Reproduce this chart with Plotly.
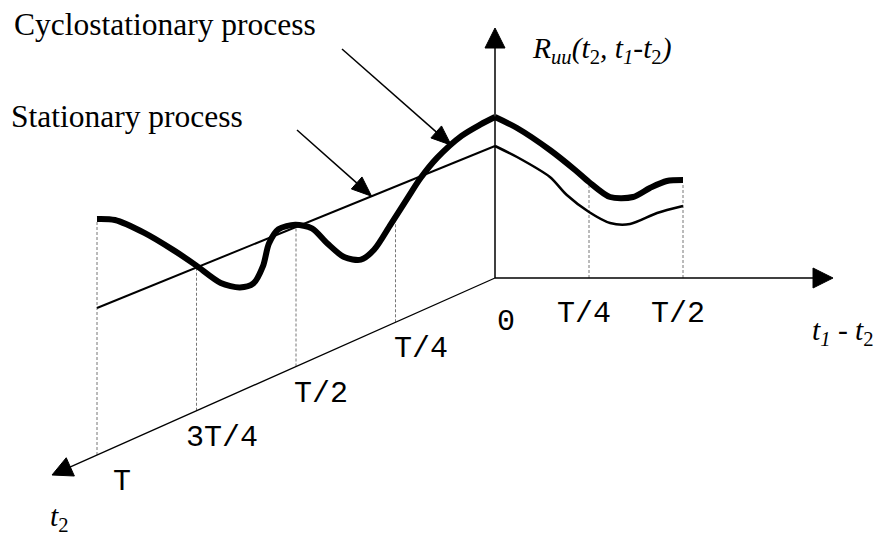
import numpy as np
import plotly.graph_objects as go

# ---- data (t2 and lag in units of the period T, R in drawing units) ----
# cyclostationary autocorrelation along t2 at zero lag
cyclo_t2 = [1.0, 0.955, 0.881, 0.806, 0.752, 0.689, 0.641, 0.607, 0.583, 0.568,
            0.544, 0.502, 0.460, 0.421, 0.379, 0.337, 0.304, 0.262, 0.217, 0.187,
            0.145, 0.084, 0.036, 0.0]
cyclo_r_t2 = [236, 227, 201, 170, 146, 117, 104, 102, 115, 135,
              145, 142, 131, 109, 88, 78, 82, 100, 120, 133,
              146, 157, 160, 161]

# cyclostationary autocorrelation along the lag t1 - t2 at t2 = 0
cyclo_lag = [0.0, 0.0585, 0.146, 0.213, 0.25, 0.306, 0.367, 0.412, 0.457, 0.5]
cyclo_r_lag = [161, 150, 128, 108, 96, 81, 81, 90, 97, 98]

# stationary process: constant along t2, decaying along the lag
stat_t2 = [1.0, 0.0]
stat_r_t2 = [147, 132]
stat_lag = [0.0, 0.0585, 0.146, 0.191, 0.25, 0.306, 0.359, 0.431, 0.5]
stat_r_lag = [132, 121, 101, 83, 66, 55, 54, 65, 72]

t2_ticks = [0.25, 0.5, 0.75, 1.0]
t2_labels = ["T/4", "T/2", "3T/4", "T"]
lag_ticks = [0.25, 0.5]
lag_labels = ["T/4", "T/2"]

# ---- oblique projection onto the page ----
ORIGIN = np.array([495.0, 278.0])
T2_DIR = np.array([-398.0, 177.0])   # one period along t2
LAG_DIR = np.array([376.0, 0.0])     # one period along t1 - t2
R_DIR = np.array([0.0, -1.0])


def project(t2, lag, r):
    t2, lag, r = (np.asarray(v, dtype=float) for v in (t2, lag, r))
    x = ORIGIN[0] + t2 * T2_DIR[0] + lag * LAG_DIR[0] + r * R_DIR[0]
    y = ORIGIN[1] + t2 * T2_DIR[1] + lag * LAG_DIR[1] + r * R_DIR[1]
    return x, y


fig = go.Figure()
shapes = []
BLACK = "#000000"


def add_arrow(p0, p1, width=1.5, head_len=20.0, head_w=20.0):
    p0 = np.asarray(p0, float)
    p1 = np.asarray(p1, float)
    u = (p1 - p0) / np.linalg.norm(p1 - p0)
    n = np.array([-u[1], u[0]])
    base = p1 - u * head_len
    end = p1 - u * head_len * 0.7
    shapes.append(dict(type="line", xref="x", yref="y", x0=p0[0], y0=p0[1],
                       x1=end[0], y1=end[1], line=dict(color=BLACK, width=width)))
    a = base + n * head_w / 2
    b = base - n * head_w / 2
    path = f"M{p1[0]},{p1[1]} L{a[0]},{a[1]} L{b[0]},{b[1]} Z"
    shapes.append(dict(type="path", xref="x", yref="y", path=path,
                       fillcolor=BLACK, line=dict(color=BLACK, width=1)))


# axes
o = project(0, 0, 0)
add_arrow(o, project(0, 0, 250), width=1.5)
add_arrow(o, project(0, 0.899, 0), width=1.5)
add_arrow(o, project(1.113, 0, 0), width=1.3)

# dotted drop lines from the t2 ticks up to the cyclostationary curve
t2_inc = np.asarray(cyclo_t2)[::-1]
r_inc = np.asarray(cyclo_r_t2)[::-1]
DROP = dict(color="#777777", width=1, dash="3px,2px")
for t in t2_ticks:
    r_top = float(np.interp(t, t2_inc, r_inc))
    xb, yb = project(t, 0, 0)
    xt, yt = project(t, 0, r_top - 3)
    fig.add_trace(go.Scatter(x=[xb, xt], y=[yb, yt], mode="lines", line=DROP,
                             hoverinfo="skip", showlegend=False))
for l in lag_ticks:
    r_top = float(np.interp(l, cyclo_lag, cyclo_r_lag))
    xb, yb = project(0, l, 0)
    xt, yt = project(0, l, r_top - 3)
    fig.add_trace(go.Scatter(x=[xb, xt], y=[yb, yt], mode="lines", line=DROP,
                             hoverinfo="skip", showlegend=False))

# stationary process
sx, sy = project(stat_t2, 0, stat_r_t2)
fig.add_trace(go.Scatter(x=sx, y=sy, mode="lines", line=dict(color=BLACK, width=2),
                         hoverinfo="skip", showlegend=False))
sx, sy = project(0, stat_lag, stat_r_lag)
fig.add_trace(go.Scatter(x=sx, y=sy, mode="lines",
                         line=dict(color=BLACK, width=2.5, shape="spline", smoothing=0.8),
                         hoverinfo="skip", showlegend=False))

# cyclostationary process
cx, cy = project(cyclo_t2, 0, cyclo_r_t2)
fig.add_trace(go.Scatter(x=cx, y=cy, mode="lines",
                         line=dict(color=BLACK, width=6, shape="spline", smoothing=0.8),
                         hoverinfo="skip", showlegend=False))
cx, cy = project(0, cyclo_lag, cyclo_r_lag)
fig.add_trace(go.Scatter(x=cx, y=cy, mode="lines",
                         line=dict(color=BLACK, width=6, shape="spline", smoothing=0.8),
                         hoverinfo="skip", showlegend=False))

# callout arrows pointing at the two curves
tip_c = project(0.11, 0, float(np.interp(0.11, t2_inc, r_inc)))
add_arrow((342, 49), tip_c, width=1.5, head_len=20, head_w=16)
tip_s = project(0.31, 0, float(np.interp(0.31, stat_t2[::-1], stat_r_t2[::-1])))
add_arrow((297, 130), tip_s, width=1.5, head_len=20, head_w=16)

annotations = []
SERIF = "Liberation Serif, Times New Roman, serif"
MONO = "Liberation Mono, Courier New, monospace"


def label(x, y, text, family, size, xanchor="center"):
    annotations.append(dict(x=x, y=y, xref="x", yref="y", text=text, showarrow=False,
                            xanchor=xanchor, yanchor="middle",
                            font=dict(family=family, size=size, color=BLACK)))


label(12, 24, "Cyclostationary process", SERIF, 31.5, "left")
label(9, 116, "Stationary process", SERIF, 31.5, "left")
label(530, 50, "<i>R</i><sub><i>uu</i></sub><i>(t</i><sub>2</sub><i>, t</i>"
      "<sub><i>1</i></sub><i>-t</i><sub>2</sub><i>)</i>", SERIF, 29.5, "left")
label(810, 332, "<i>t</i><sub><i>1</i></sub><i> - t</i><sub>2</sub>", SERIF, 29.5, "left")
label(48, 518, "<i>t</i><sub>2</sub>", SERIF, 29.5, "left")

# tick labels
label(506, 322, "0", MONO, 30)
for l, txt in zip(lag_ticks, lag_labels):
    x, y = project(0, l, 0)
    label(float(x) - 5, float(y) + 36, txt, MONO, 30)
for t, txt in zip(t2_ticks, t2_labels):
    x, y = project(t, 0, 0)
    label(float(x) + 25, float(y) + 27, txt, MONO, 30)

fig.update_layout(
    width=882, height=542,
    margin=dict(l=0, r=0, t=0, b=0),
    paper_bgcolor="white", plot_bgcolor="white",
    xaxis=dict(range=[0, 882], visible=False, fixedrange=True),
    yaxis=dict(range=[542, 0], visible=False, fixedrange=True),
    shapes=shapes, annotations=annotations, showlegend=False,
)

fig.write_html("out.html")
